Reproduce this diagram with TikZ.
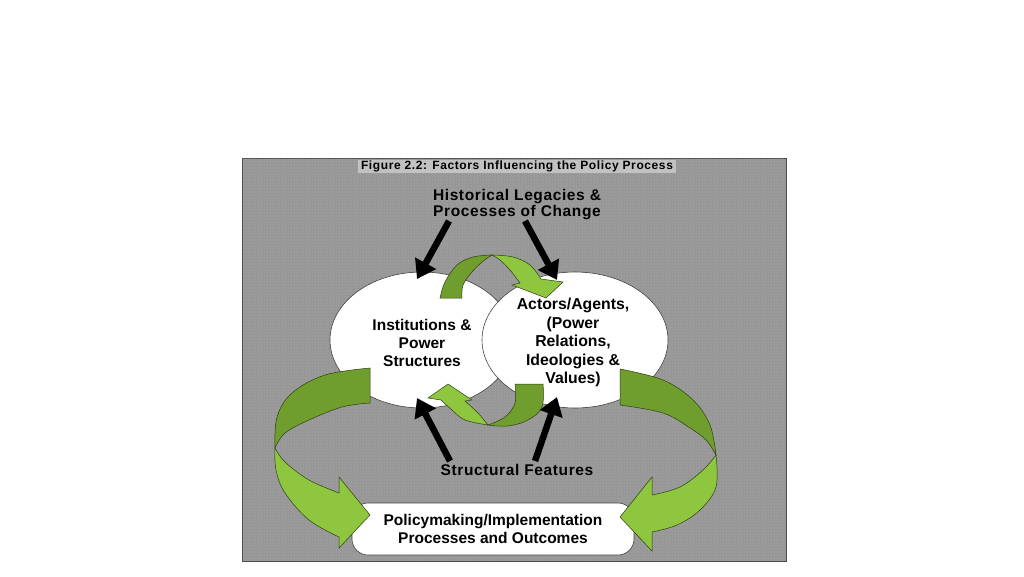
\documentclass[tikz,border=0pt]{standalone}
\usepackage{fontspec}
\setmainfont{Liberation Sans}
\newfontfamily\titlefont[LetterSpace=5]{Liberation Sans}
\newfontfamily\headfont[LetterSpace=4]{Liberation Sans}
\usetikzlibrary{arrows.meta,shapes.geometric,patterns}
\definecolor{bggray}{HTML}{979797}
\definecolor{dotgray}{HTML}{B8B8B8}
\definecolor{hlgray}{HTML}{C2C2C2}
\definecolor{gdark}{HTML}{6F9E2E}
\definecolor{glight}{HTML}{8EC63F}
\definecolor{gedge}{HTML}{2E3F10}
\begin{document}
\begin{tikzpicture}[x=1pt,y=-1pt,
  framebox/.style={draw=black!70, line width=0.8pt, fill=bggray},
  dotfill/.style={pattern=dots, pattern color=dotgray},
  bubble/.style={ellipse, draw=black!75, line width=0.6pt, fill=white, inner sep=0pt},
  bubtext/.style={inner sep=0pt, font=\bfseries\fontsize{15.5}{18}\selectfont, align=center},
  darkband/.style={fill=gdark, draw=gedge, line width=0.5pt},
  lightband/.style={fill=glight, draw=gedge, line width=0.5pt},
  blackarrow/.style={line width=6.5pt, black, -{Triangle[length=18pt,width=23pt]}},
  lbl/.style={font=\headfont\bfseries\fontsize{15.5}{16.5}\selectfont, align=center, inner sep=0pt},
  outcome/.style={draw=black!75, line width=0.6pt, fill=white, rounded corners=16pt,
    minimum width=282pt, minimum height=52pt, inner sep=0pt,
    font=\bfseries\fontsize{15.5}{18}\selectfont, align=center}
]
\useasboundingbox (0,0) rectangle (1024,576);
\fill[white] (0,0) rectangle (1024,576);
% frame
\draw[framebox] (242,158) rectangle (786,561);
\fill[dotfill] (242.5,158.5) rectangle (785.5,560.5);
% title
\node[fill=hlgray, inner xsep=3pt, inner ysep=0.8pt, font=\titlefont\bfseries\fontsize{12}{12}\selectfont]
  (title) at (517,166.5) {Figure 2.2: Factors Influencing the Policy Process};
% texts
\node[lbl] (hist) at (517,204.5) {Historical Legacies \&\\Processes of Change};
\node[lbl] (struct) at (517,470) {Structural Features};
% ellipses
\node[bubble, minimum width=184pt, minimum height=136pt] (inst) at (422,340) {};
\node[bubble, minimum width=186pt, minimum height=136pt] (actors) at (575,340) {};
\node[bubtext] (insttext) at ([yshift=-3pt]inst.center) {Institutions \&\\Power\\Structures};
\node[bubtext, font=\bfseries\fontsize{15.8}{18.5}\selectfont] (actorstext) at ([xshift=-2pt,yshift=-2.5pt]actors.center)
  {Actors/Agents,\\(Power\\Relations,\\Ideologies \&\\Values)};
% small circular arrows: top
\filldraw[darkband] plot[smooth, tension=0.6] coordinates {(440,298) (445,282) (457,265) (473,257) (492,255)}
  -- plot[smooth, tension=0.6] coordinates {(492,255) (482,262) (472,272) (463,285) (462,298)} -- cycle;
\filldraw[lightband] plot[smooth, tension=0.6] coordinates {(492,255) (513,257) (530,265) (541,279)}
  -- (563,282) -- (546,298) -- (512,285)
  -- plot[smooth, tension=0.6] coordinates {(520,283) (510,270) (500,260) (492,255)} -- cycle;
% small circular arrows: bottom
\filldraw[darkband] plot[smooth, tension=0.6] coordinates {(543,384) (542,407) (528,420) (508,426) (488,425)}
  -- plot[smooth, tension=0.6] coordinates {(488,425) (505,417) (515,403) (515,384)} -- cycle;
\filldraw[lightband] plot[smooth, tension=0.6] coordinates {(488,425) (465,420) (452,410) (441,400)}
  -- (428,398) -- (448,384) -- (472,400)
  -- plot[smooth, tension=0.6] coordinates {(465,401) (478,413) (488,425)} -- cycle;
% outcome box
\node[outcome] (policy) at (493,529) {Policymaking/Implementation\\Processes and Outcomes};
% big arrows: left
\filldraw[darkband] plot[smooth, tension=0.6] coordinates {(370,368) (325,375) (292,393) (277,417) (275,448)}
  -- plot[smooth, tension=0.6] coordinates {(275,448) (285,433) (309,420) (342,407) (370,403)} -- cycle;
\filldraw[lightband] plot[smooth, tension=0.6] coordinates {(275,448) (276,470) (285,493) (309,520) (339,537)}
  -- (339,548) -- (370,515) -- (339,477)
  -- plot[smooth, tension=0.6] coordinates {(339,493) (309,480) (285,462) (275,448)} -- cycle;
% big arrows: right
\filldraw[darkband] plot[smooth, tension=0.6] coordinates {(620,369) (663,380) (693,400) (710,425) (716,455)}
  -- plot[smooth, tension=0.6] coordinates {(716,455) (706,440) (690,428) (663,413) (620,405)} -- cycle;
\filldraw[lightband] plot[smooth, tension=0.6] coordinates {(716,455) (716,487) (700,510) (677,525) (652,532)}
  -- (652,551) -- (620,517) -- (652,477)
  -- plot[smooth, tension=0.6] coordinates {(652,495) (680,487) (703,470) (716,455)} -- cycle;
% black arrows
\coordinate (h1) at (449,221);
\coordinate (h2) at (525,221);
\coordinate (i1) at (417,279);
\coordinate (a1) at (557,280);
\coordinate (s1) at (450,461);
\coordinate (s2) at (535,461);
\coordinate (i2) at (417,398);
\coordinate (a2) at (557,397);
\draw[blackarrow] (h1) -- (i1);
\draw[blackarrow] (h2) -- (a1);
\draw[blackarrow] (s1) -- (i2);
\draw[blackarrow] (s2) -- (a2);
\end{tikzpicture}
\end{document}
